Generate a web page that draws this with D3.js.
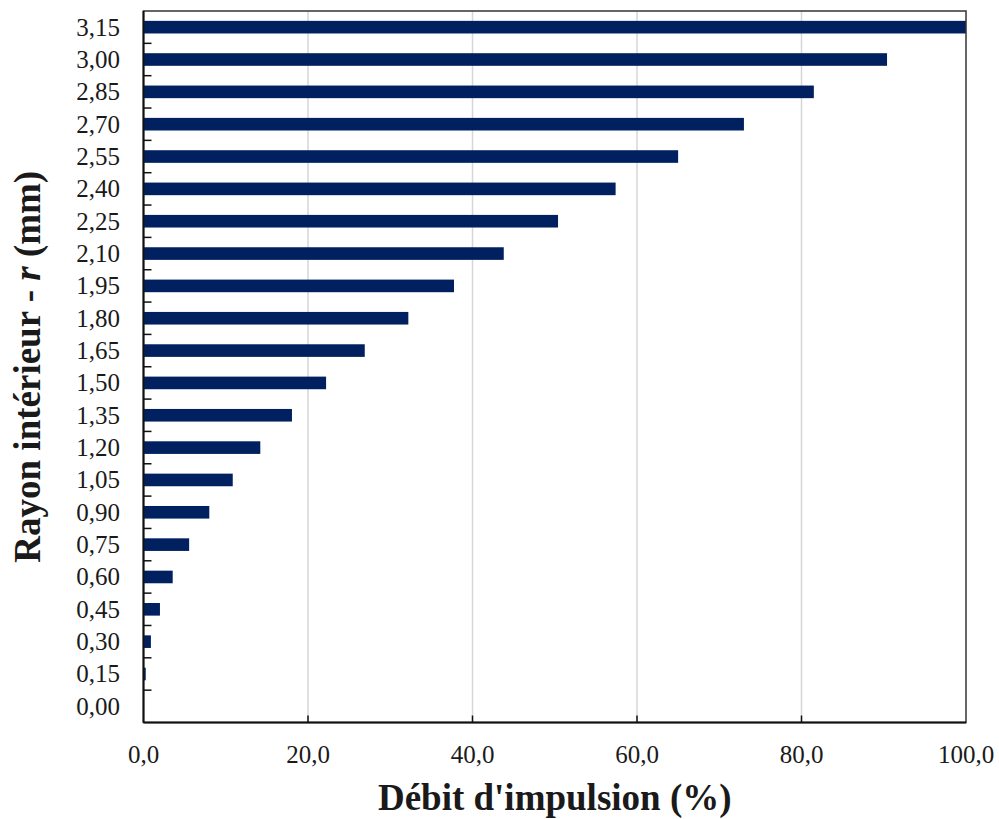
<!DOCTYPE html>
<html>
<head>
<meta charset="utf-8">
<script src="https://cdn.jsdelivr.net/npm/d3@7"></script>
<style>
  html, body { margin: 0; padding: 0; background: #fff; }
  svg { display: block; }
  text { font-family: "Liberation Serif", "DejaVu Serif", serif; fill: #1a1a1a; }
</style>
</head>
<body>
<svg id="chart" width="999" height="819"></svg>
<script>
// Data
const categories = ["0,00","0,15","0,30","0,45","0,60","0,75","0,90","1,05","1,20","1,35","1,50",
                    "1,65","1,80","1,95","2,10","2,25","2,40","2,55","2,70","2,85","3,00","3,15"];
const values = [0, 0.27, 0.9, 2.0, 3.55, 5.55, 8.0, 10.85, 14.2, 18.05, 22.2,
                26.9, 32.2, 37.75, 43.8, 50.4, 57.4, 65.0, 73.0, 81.5, 90.4, 100];
const xTicks = [0, 20, 40, 60, 80, 100];
const xTickLabels = ["0,0", "20,0", "40,0", "60,0", "80,0", "100,0"];
const xTitle = "Débit d'impulsion (%)";

const svg = d3.select("#chart");
const m = { left: 143.5, right: 966, top: 11, bottom: 722.5 };

const x = d3.scaleLinear().domain([0, 100]).range([m.left, m.right]);
const y = d3.scaleBand().domain(categories).range([m.bottom, m.top])
  .paddingInner(0.61).paddingOuter(0.305);
const yIdx = d3.scaleLinear().domain([0, categories.length]).range([m.bottom, m.top]);

// gridlines
svg.append("g").selectAll("line").data(xTicks.slice(1, -1)).join("line")
  .attr("x1", d => x(d)).attr("x2", d => x(d))
  .attr("y1", m.top).attr("y2", m.bottom)
  .attr("stroke", "#d6d6d6").attr("stroke-width", 1.5);

// bars
svg.append("g").selectAll("rect").data(categories).join("rect")
  .attr("x", x(0))
  .attr("y", d => y(d))
  .attr("width", (d, i) => x(values[i]) - x(0))
  .attr("height", y.bandwidth())
  .attr("fill", "#002060");

// frame
svg.append("rect")
  .attr("x", m.left).attr("y", m.top)
  .attr("width", m.right - m.left).attr("height", m.bottom - m.top)
  .attr("fill", "none").attr("stroke", "#333").attr("stroke-width", 1.5);
svg.append("line").attr("x1", m.left).attr("x2", m.left).attr("y1", m.top).attr("y2", m.bottom)
  .attr("stroke", "#111").attr("stroke-width", 2);
svg.append("line").attr("x1", m.left).attr("x2", m.right).attr("y1", m.bottom).attr("y2", m.bottom)
  .attr("stroke", "#111").attr("stroke-width", 2);

// y ticks (category boundaries, inward)
svg.append("g").selectAll("line").data(d3.range(1, categories.length)).join("line")
  .attr("x1", m.left).attr("x2", m.left + 8)
  .attr("y1", d => yIdx(d)).attr("y2", d => yIdx(d))
  .attr("stroke", "#111").attr("stroke-width", 1.5);

// x ticks (inward)
svg.append("g").selectAll("line").data(xTicks.slice(1, -1)).join("line")
  .attr("x1", d => x(d)).attr("x2", d => x(d))
  .attr("y1", m.bottom).attr("y2", m.bottom - 7)
  .attr("stroke", "#111").attr("stroke-width", 1.5);

// y tick labels
svg.append("g").selectAll("text").data(categories).join("text")
  .attr("x", 120)
  .attr("y", d => y(d) + y.bandwidth() / 2)
  .attr("dy", "0.34em")
  .attr("text-anchor", "end")
  .attr("font-size", 25)
  .text(d => d);

// x tick labels
svg.append("g").selectAll("text").data(xTicks).join("text")
  .attr("x", d => x(d))
  .attr("y", 763)
  .attr("text-anchor", "middle")
  .attr("font-size", 25)
  .text((d, i) => xTickLabels[i]);

// x title
svg.append("text")
  .attr("x", (m.left + m.right) / 2)
  .attr("y", 810)
  .attr("text-anchor", "middle")
  .attr("font-size", 37)
  .attr("font-weight", "bold")
  .text(xTitle);

// y title
const yt = svg.append("text")
  .attr("transform", `translate(40, ${(m.top + m.bottom) / 2}) rotate(-90)`)
  .attr("text-anchor", "middle")
  .attr("font-size", 37)
  .attr("font-weight", "bold");
yt.append("tspan").text("Rayon intérieur - ");
yt.append("tspan").attr("font-style", "italic").text("r");
yt.append("tspan").text(" (mm)");
</script>
</body>
</html>
